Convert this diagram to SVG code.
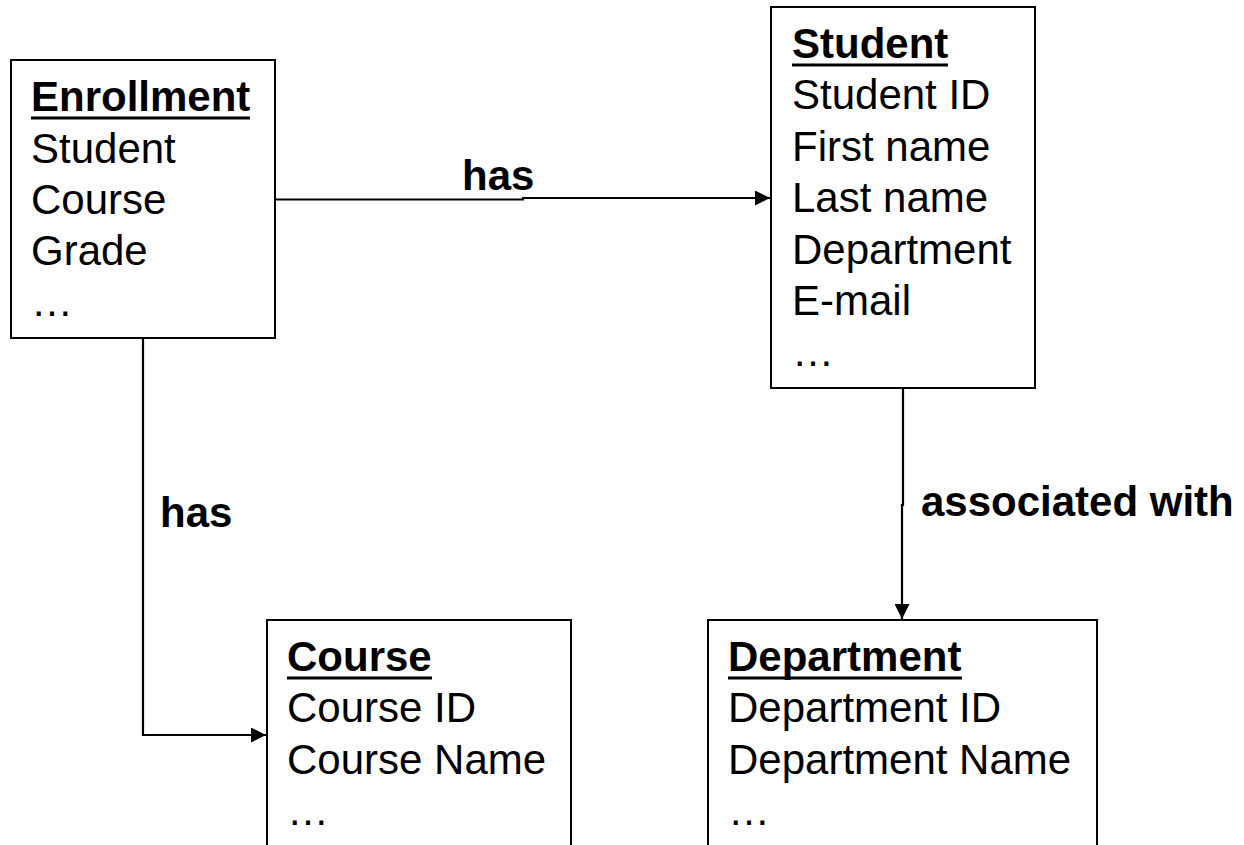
<svg xmlns="http://www.w3.org/2000/svg" width="1244" height="845" viewBox="0 0 1244 845">
<style>
.box{fill:#fff;stroke:#000;stroke-width:2}
.t{font-family:"Liberation Sans",Arial,sans-serif;font-size:42px;fill:#000}
.h{font-weight:bold}
.u{stroke:#000;stroke-width:3}
.lbl{font-family:"Liberation Sans",Arial,sans-serif;font-size:42px;font-weight:bold;fill:#000}
.c{fill:none;stroke:#000;stroke-width:2.2}
</style>
<defs>
<marker id="arr" markerWidth="15" markerHeight="15" refX="15" refY="7.5" orient="auto" markerUnits="userSpaceOnUse">
<path d="M0,0 L15,7.5 L0,15 Z" fill="#000"/>
</marker>
</defs>
<rect width="1244" height="845" fill="#fff"/>
<g id="connectors">
<path class="c" d="M275,199.5 H523 V198 H770" marker-end="url(#arr)"/>
<path class="c" d="M143,338 V735 H266" marker-end="url(#arr)"/>
<path class="c" d="M903,388 V505 H902 V619" marker-end="url(#arr)"/>
<text class="lbl" x="462" y="190">has</text>
<text class="lbl" x="160" y="527">has</text>
<text class="lbl" x="921" y="516">associated with</text>
</g>
<g id="enrollment">
<rect class="box" x="11" y="60" width="264" height="278"/>
<text class="t h" x="31" y="111">Enrollment</text>
<line class="u" x1="31" y1="118" x2="250" y2="118"/>
<text class="t" x="31" y="163">Student</text>
<text class="t" x="31" y="214">Course</text>
<text class="t" x="31" y="265">Grade</text>
<text class="t" x="31" y="316">…</text>
</g>
<g id="student">
<rect class="box" x="771" y="7" width="264" height="381"/>
<text class="t h" x="792" y="58">Student</text>
<line class="u" x1="792" y1="65" x2="948" y2="65"/>
<text class="t" x="792" y="109">Student ID</text>
<text class="t" x="792" y="161">First name</text>
<text class="t" x="792" y="212">Last name</text>
<text class="t" x="792" y="264">Department</text>
<text class="t" x="792" y="315">E-mail</text>
<text class="t" x="792" y="366">…</text>
</g>
<g id="course">
<rect class="box" x="267" y="620" width="304" height="240"/>
<text class="t h" x="287" y="671">Course</text>
<line class="u" x1="287" y1="678" x2="432" y2="678"/>
<text class="t" x="287" y="722">Course ID</text>
<text class="t" x="287" y="774">Course Name</text>
<text class="t" x="287" y="825">…</text>
</g>
<g id="department">
<rect class="box" x="708" y="620" width="389" height="240"/>
<text class="t h" x="728" y="671">Department</text>
<line class="u" x1="728" y1="678" x2="962" y2="678"/>
<text class="t" x="728" y="722">Department ID</text>
<text class="t" x="728" y="774">Department Name</text>
<text class="t" x="728" y="825">…</text>
</g>
</svg>
